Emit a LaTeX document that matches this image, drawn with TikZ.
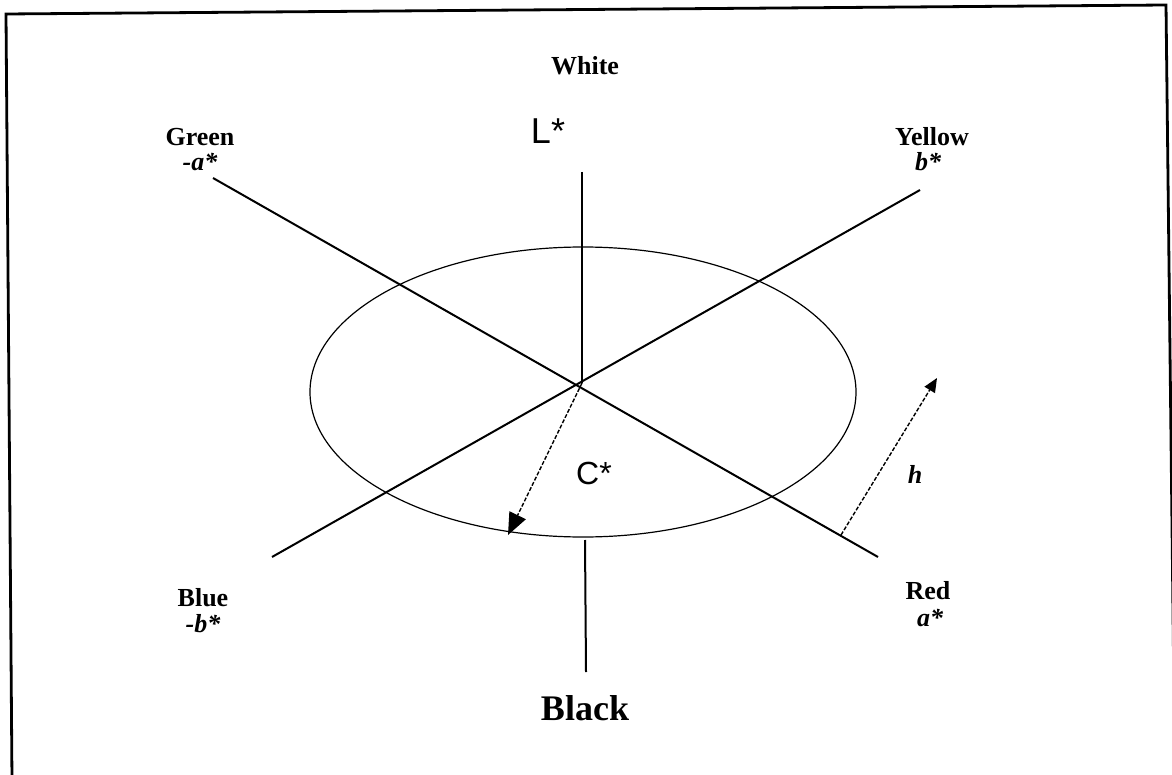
\documentclass[tikz,border=0pt]{standalone}
\usepackage{fontspec}
\setmainfont{Liberation Serif}
\newfontfamily\arialf{Liberation Sans}
\usetikzlibrary{arrows.meta}
\begin{document}
\begin{tikzpicture}[x=0.5pt,y=-0.5pt,
  frame/.style={line width=1.4pt},
  axis/.style={line width=1pt},
  ring/.style={line width=0.6pt},
  dasharrow/.style={line width=0.7pt, dash pattern=on 2pt off 0.9pt},
  lbl/.style={font=\fontsize{13}{15}\selectfont\bfseries, inner sep=0pt},
  sym/.style={font=\fontsize{13}{15}\selectfont\bfseries\itshape, inner sep=0pt},
  axlbl/.style={font=\fontsize{18}{20}\selectfont\arialf, inner sep=0pt}]
\useasboundingbox (0,0) rectangle (1172,775);
% frame
\coordinate (f1) at (6,14);
\coordinate (f2) at (1166,5);
\coordinate (f3) at (12,780);
\coordinate (f4) at (1174,700);
\draw[frame] (f3) -- (f1) -- (f2) -- (f4);
% axes
\coordinate (O) at (582,383);
\coordinate (Ltop) at (582,172);
\coordinate (Lb1) at (585,540);
\coordinate (Lb2) at (586,672);
\coordinate (GE) at (213,178);
\coordinate (RE) at (878,557);
\coordinate (BE) at (272,557);
\coordinate (YE) at (920,190);
\draw[ring] (583,392) ellipse [x radius=136.5pt, y radius=72.5pt];
\draw[axis] (Ltop) -- (O);
\draw[axis] (Lb1) -- (Lb2);
\draw[axis] (GE) -- (RE);
\draw[axis] (BE) -- (YE);
% arrows
\coordinate (Ctip) at (508,535);
\coordinate (hb) at (841,535);
\coordinate (ht) at (937,378);
\draw[dasharrow, -{Triangle[length=11pt,width=9pt]}] (O) -- (Ctip);
\draw[dasharrow, -{Triangle[length=7pt,width=6pt]}] (hb) -- (ht);
% labels
\node[lbl] (white) at (585,66) {White};
\node[axlbl] (L) at (548,131) {L*};
\node[axlbl, font=\fontsize{16}{18}\selectfont\arialf] (C) at (594,473) {C*};
\node[lbl] (green) at (200,137) {Green};
\node[sym] (ma) at (200,162) {-a*};
\node[lbl] (yellow) at (932,137) {Yellow};
\node[sym] (b) at (928,162) {b*};
\node[lbl] (blue) at (203,598) {Blue};
\node[sym] (mb) at (203,624) {-b*};
\node[lbl] (red) at (928,591) {Red};
\node[sym] (a) at (930,618) {a*};
\node[sym] (h) at (915,474) {h};
\node[lbl, font=\fontsize{18}{20}\selectfont\bfseries] (black) at (585,708) {Black};
\end{tikzpicture}
\end{document}
